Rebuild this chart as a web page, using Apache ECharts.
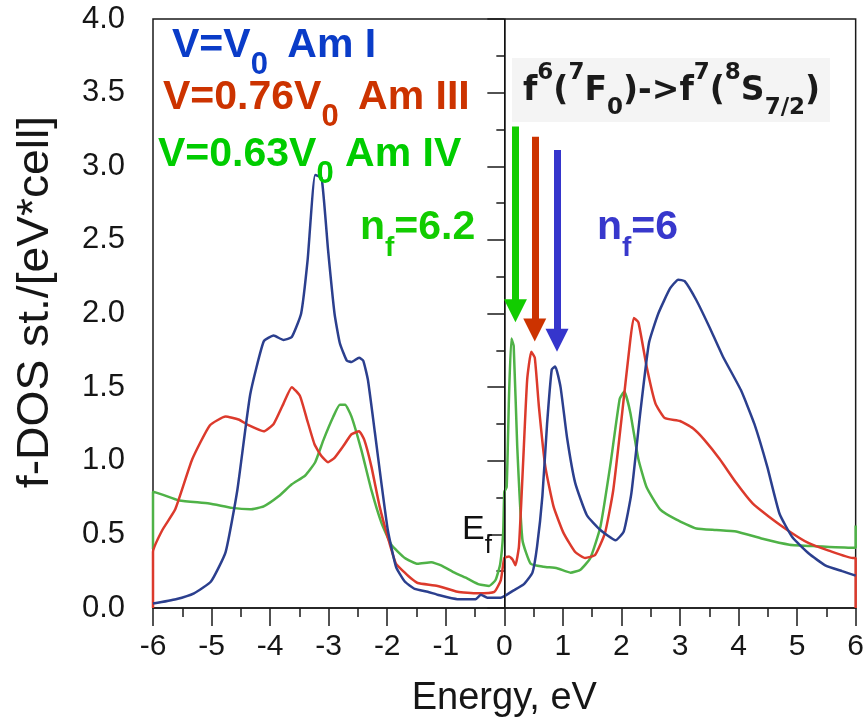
<!DOCTYPE html>
<html>
<head>
<meta charset="utf-8">
<title>f-DOS of Am under compression</title>
<script src="https://cdn.jsdelivr.net/npm/echarts@6/dist/echarts.min.js"></script>
<style>
  html, body { margin: 0; padding: 0; background: #ffffff; }
  #chart { width: 867px; height: 723px; }
</style>
</head>
<body>
<div id="chart"></div>
<script>
// Energy axis ticks and DOS axis ticks
const energyTicks = [-6, -5, -4, -3, -2, -1, 0, 1, 2, 3, 4, 5, 6];
const dosTicks = [0.0, 0.5, 1.0, 1.5, 2.0, 2.5, 3.0, 3.5, 4.0];

// V = V0, Am I  (energy eV, f-DOS)
const dosAmI = [
  [-6.00, 0.03], [-5.61, 0.06], [-5.30, 0.10], [-5.01, 0.18], [-4.76, 0.38],
  [-4.56, 0.80], [-4.34, 1.45], [-4.11, 1.81], [-3.94, 1.85], [-3.77, 1.82],
  [-3.63, 1.84], [-3.47, 2.00], [-3.36, 2.36], [-3.23, 2.94], [-3.12, 2.92],
  [-3.01, 2.43], [-2.90, 2.00], [-2.81, 1.80], [-2.69, 1.68], [-2.61, 1.67],
  [-2.48, 1.70], [-2.41, 1.68], [-2.33, 1.55], [-2.21, 1.19], [-2.10, 0.85],
  [-1.99, 0.53], [-1.85, 0.28], [-1.70, 0.18], [-1.53, 0.13], [-1.31, 0.11],
  [-1.14, 0.09], [-0.80, 0.06], [-0.49, 0.06], [-0.40, 0.09], [-0.29, 0.07],
  [-0.06, 0.07], [0.16, 0.12], [0.33, 0.16], [0.48, 0.24], [0.56, 0.42],
  [0.65, 0.76], [0.73, 1.25], [0.81, 1.62], [0.87, 1.64], [0.96, 1.50],
  [1.07, 1.16], [1.21, 0.85], [1.41, 0.63], [1.64, 0.53], [1.90, 0.46],
  [2.04, 0.52], [2.17, 0.78], [2.32, 1.32], [2.47, 1.80], [2.63, 2.00],
  [2.83, 2.17], [2.97, 2.23], [3.08, 2.22], [3.28, 2.09], [3.50, 1.91],
  [3.73, 1.71], [4.04, 1.48], [4.27, 1.25], [4.49, 0.96], [4.70, 0.64],
  [4.92, 0.48], [5.20, 0.37], [5.48, 0.29], [5.77, 0.25], [6.00, 0.22]
];

// V = 0.76 V0, Am III
const dosAmIII = [
  [-6.00, 0.00], [-6.00, 0.38], [-5.84, 0.53], [-5.62, 0.67], [-5.33, 1.01],
  [-5.03, 1.24], [-4.76, 1.30], [-4.54, 1.28], [-4.36, 1.24], [-4.11, 1.20],
  [-3.94, 1.25], [-3.77, 1.39], [-3.63, 1.50], [-3.49, 1.44], [-3.37, 1.28],
  [-3.24, 1.11], [-3.12, 1.03], [-3.01, 0.99], [-2.90, 1.02], [-2.75, 1.10],
  [-2.61, 1.18], [-2.48, 1.20], [-2.39, 1.14], [-2.27, 0.96], [-2.13, 0.69],
  [-1.99, 0.48], [-1.85, 0.30], [-1.70, 0.24], [-1.59, 0.20], [-1.48, 0.17],
  [-1.14, 0.15], [-0.80, 0.11], [-0.46, 0.10], [-0.17, 0.11], [-0.06, 0.19],
  [0.00, 0.34], [0.08, 0.35], [0.14, 0.33], [0.19, 0.29], [0.25, 0.42],
  [0.32, 0.98], [0.39, 1.55], [0.46, 1.74], [0.52, 1.70], [0.59, 1.37],
  [0.70, 0.96], [0.84, 0.69], [1.01, 0.51], [1.21, 0.38], [1.38, 0.34],
  [1.55, 0.36], [1.72, 0.51], [1.86, 0.80], [2.00, 1.28], [2.14, 1.78],
  [2.21, 1.97], [2.29, 1.94], [2.43, 1.64], [2.58, 1.39], [2.74, 1.29],
  [3.00, 1.27], [3.22, 1.22], [3.42, 1.14], [3.68, 1.01], [3.96, 0.85],
  [4.24, 0.71], [4.52, 0.62], [4.87, 0.52], [5.20, 0.44], [5.54, 0.39],
  [5.95, 0.34], [6.00, 0.34], [6.00, 0.00]
];

// V = 0.63 V0, Am IV
const dosAmIV = [
  [-6.00, 0.40], [-6.00, 0.79], [-5.84, 0.77], [-5.55, 0.73], [-5.04, 0.71],
  [-4.65, 0.68], [-4.34, 0.67], [-4.11, 0.69], [-3.85, 0.76], [-3.63, 0.84],
  [-3.40, 0.90], [-3.23, 0.99], [-3.09, 1.14], [-2.92, 1.30], [-2.81, 1.38],
  [-2.72, 1.38], [-2.61, 1.30], [-2.44, 1.07], [-2.27, 0.80], [-2.10, 0.58],
  [-1.93, 0.43], [-1.70, 0.34], [-1.48, 0.30], [-1.25, 0.31], [-1.08, 0.29],
  [-0.85, 0.24], [-0.63, 0.20], [-0.43, 0.16], [-0.26, 0.15], [-0.15, 0.19],
  [-0.07, 0.30], [-0.02, 0.51], [0.00, 0.79], [0.04, 0.82], [0.08, 1.44],
  [0.12, 1.83], [0.16, 1.78], [0.22, 1.10], [0.31, 0.46], [0.45, 0.30],
  [0.67, 0.28], [0.90, 0.27], [1.13, 0.24], [1.30, 0.26], [1.47, 0.34],
  [1.64, 0.55], [1.81, 0.97], [1.97, 1.42], [2.05, 1.47], [2.15, 1.33],
  [2.29, 1.01], [2.43, 0.82], [2.66, 0.67], [2.94, 0.60], [3.28, 0.54],
  [3.62, 0.53], [3.96, 0.52], [4.41, 0.47], [4.87, 0.43], [5.31, 0.42],
  [5.95, 0.41], [6.00, 0.41], [6.00, 0.56]
];

// f6 -> f7 transition energies marked by arrows: [energy, top, tip]
const arrowEnergy = [0.19, 0.52, 0.90];
const arrowTop = [3.27, 3.20, 3.11];
const arrowTip = [1.94, 1.81, 1.74];
const arrowColors = ['#12cc00', '#cc3300', '#3535cc'];

const FONT = "'Liberation Sans', Arial, Helvetica, sans-serif";
const HEAD = 23;            // arrow head size, px
const Y_PER_PX = 4 / 589;   // DOS units per pixel of plot height

const arrowLines = arrowEnergy.map((e, i) => ([
  {
    coord: [e, arrowTop[i]],
    lineStyle: { color: arrowColors[i], width: 7, type: 'solid' },
    itemStyle: { color: arrowColors[i] }
  },
  { coord: [e, arrowTip[i] + (HEAD / 2) * Y_PER_PX] }
]));

// rich-text helper: main run top-aligned, lowered run bottom-aligned in a taller line box
function subRich(color, mainSize, subSize, weight, mainLH, lineBox, extraGap) {
  return {
    m: { fontFamily: FONT, fontSize: mainSize, fontWeight: weight, lineHeight: mainLH, verticalAlign: 'top', fill: color },
    s: { fontFamily: FONT, fontSize: subSize, fontWeight: weight, lineHeight: lineBox, verticalAlign: 'bottom', fill: color,
         padding: [0, extraGap || 0, 0, 0] }
  };
}

const chart = echarts.init(document.getElementById('chart'), null, { renderer: 'canvas' });

const option = {
  animation: false,
  backgroundColor: '#ffffff',
  grid: {
    left: 153, right: 7, top: 19, bottom: 115,
    show: true, borderColor: '#1a1a1a', borderWidth: 1.5, backgroundColor: 'transparent'
  },
  xAxis: {
    type: 'value',
    min: energyTicks[0], max: energyTicks[energyTicks.length - 1], interval: 1,
    name: 'Energy, eV', nameLocation: 'middle', nameGap: 72,
    nameTextStyle: { fontFamily: FONT, fontSize: 38, color: '#161616' },
    axisLine: { show: true, lineStyle: { color: '#1a1a1a', width: 1.5 } },
    axisTick: { show: true, inside: false, length: 18, lineStyle: { color: '#1a1a1a', width: 1.5 } },
    minorTick: { show: true, splitNumber: 2, length: 9, lineStyle: { color: '#1a1a1a', width: 1.5 } },
    splitLine: { show: false },
    axisLabel: { fontFamily: FONT, fontSize: 30, color: '#161616', margin: 24,
      formatter: v => String(v) }
  },
  yAxis: {
    type: 'value',
    min: dosTicks[0], max: dosTicks[dosTicks.length - 1], interval: 0.5,
    axisLine: { show: true, lineStyle: { color: '#1a1a1a', width: 1.5 } },
    axisTick: { show: true, inside: false, length: 17, lineStyle: { color: '#1a1a1a', width: 1.5 } },
    minorTick: { show: true, splitNumber: 2, length: 8, lineStyle: { color: '#1a1a1a', width: 1.5 } },
    splitLine: { show: false },
    axisLabel: { fontFamily: FONT, fontSize: 31, color: '#161616', margin: 28,
      formatter: v => v.toFixed(1) }
  },
  series: [
    {
      name: 'Am IV', type: 'line', data: dosAmIV, showSymbol: false, smooth: 0.15,
      lineStyle: { color: '#4fb247', width: 2.5 }, z: 2
    },
    {
      name: 'Am III', type: 'line', data: dosAmIII, showSymbol: false, smooth: 0.15,
      lineStyle: { color: '#dc3a2c', width: 2.5 }, z: 3
    },
    {
      name: 'Am I', type: 'line', data: dosAmI, showSymbol: false, smooth: 0.15,
      lineStyle: { color: '#2b3f8e', width: 2.5 }, z: 4,
      markLine: {
        silent: true, symbol: 'none', label: { show: false },
        lineStyle: { color: '#111111', width: 1, type: 'solid' },
        data: [{ xAxis: 0 }]
      }
    },
    {
      name: 'transitions', type: 'line', data: [], z: 5,
      markLine: {
        silent: true,
        symbol: ['none', 'triangle'], symbolSize: [HEAD, HEAD],
        label: { show: false },
        lineStyle: { type: 'solid' },
        data: arrowLines
      }
    }
  ],
  graphic: [
    // y-axis title, reads bottom to top
    {
      type: 'text', x: 36, y: 302, rotation: Math.PI / 2, scaleX: 1.05, z: 10,
      style: {
        text: 'f-DOS st./[eV*cell]', fontFamily: FONT, fontSize: 44, fill: '#161616',
        align: 'center', verticalAlign: 'middle'
      }
    },
    {
      type: 'rect', left: 512, top: 58, z: 1,
      shape: { width: 318, height: 64 },
      style: { fill: '#f4f4f4' }
    },
    {
      type: 'text', left: 172, top: 25, z: 10,
      style: { text: '{m|V=V}{s|0}{m| Am I}', rich: subRich('#0a3cc8', 41, 31, 'bold', 44, 56, 8) }
    },
    {
      type: 'text', left: 163, top: 77, z: 10,
      style: { text: '{m|V=0.76V}{s|0}{m| Am III}', rich: subRich('#cc3300', 41, 31, 'bold', 44, 56, 8) }
    },
    {
      type: 'text', left: 158, top: 134, z: 10,
      style: { text: '{m|V=0.63V}{s|0}{m| Am IV}', rich: subRich('#00cc00', 41, 31, 'bold', 44, 56, 0) }
    },
    {
      type: 'text', left: 360, top: 207, z: 10,
      style: { text: '{m|n}{s|f}{m|=6.2}', rich: subRich('#12cc00', 41, 28, 'bold', 44, 55, 0) }
    },
    {
      type: 'text', left: 597, top: 207, z: 10,
      style: { text: '{m|n}{s|f}{m|=6}', rich: subRich('#3838cc', 41, 28, 'bold', 44, 55, 0) }
    },
    {
      type: 'text', left: 523, top: 62, z: 10,
      style: {
        text: '{m|f}{p|6}{m|(}{p|7}{m|F}{b|0}{m|)->f}{p|7}{m|(}{p|8}{m|S}{b|7/2}{m|)}',
        rich: {
          m: { fontFamily: "'DejaVu Sans', sans-serif", fontSize: 33, fontWeight: 'bold', lineHeight: 58, verticalAlign: 'middle', fill: '#1a1a1a' },
          p: { fontFamily: "'DejaVu Sans', sans-serif", fontSize: 23, fontWeight: 'bold', lineHeight: 34, verticalAlign: 'top', fill: '#1a1a1a' },
          b: { fontFamily: "'DejaVu Sans', sans-serif", fontSize: 23, fontWeight: 'bold', lineHeight: 34, verticalAlign: 'bottom', fill: '#1a1a1a' }
        }
      }
    },
    {
      type: 'text', left: 462, top: 513, z: 10,
      style: { text: '{m|E}{s|f}', rich: subRich('#111111', 34, 26, 'normal', 36, 46, 0) }
    }
  ]
};

chart.setOption(option);
</script>
</body>
</html>
